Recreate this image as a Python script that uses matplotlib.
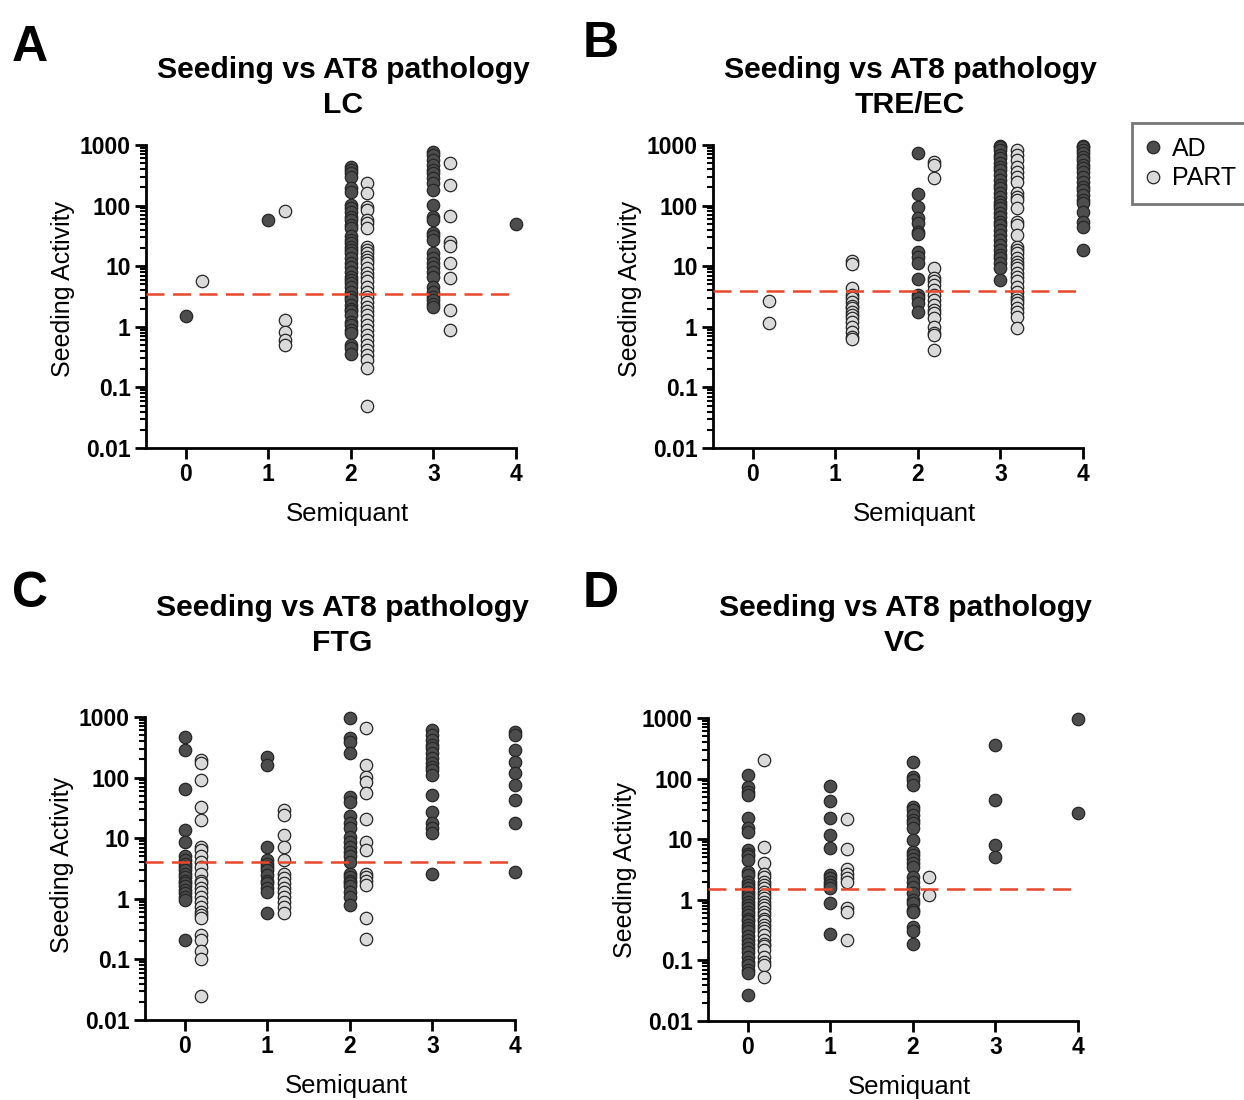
import matplotlib
matplotlib.use("Agg")
import matplotlib.pyplot as plt
from matplotlib.lines import Line2D
from matplotlib.ticker import FixedLocator, LogLocator, NullFormatter

plt.rcParams['font.family'] = ['Liberation Sans', 'DejaVu Sans']

# ---------------- data (Seeding Activity by Semiquant score) ----------------
regions = ["LC", "TRE/EC", "FTG", "VC"]
panel_letters = ["A", "B", "C", "D"]
semiquant_ticks = [0, 1, 2, 3, 4]
ytick_values = [0.01, 0.1, 1, 10, 100, 1000]
ytick_labels = ["0.01", "0.1", "1", "10", "100", "1000"]
thresholds = [3.5, 3.9, 4.0, 1.5]

lc_ad = {
    0: [1.5],
    1: [57],
    2: [440, 386, 340, 300, 193, 170, 102, 90, 79, 66, 58, 48, 42, 31, 27, 24, 21,
        18.5, 16.3, 13.5, 11.1, 9.8, 8.1, 6.7, 5.9, 5.2, 4.6, 3.8, 3.1, 2.8, 2.3,
        2.0, 1.8, 1.57, 1.22, 1.07, 0.89, 0.78, 0.50, 0.44, 0.36],
    3: [780, 684, 565, 468, 386, 340, 282, 233, 181, 102, 66, 58, 35, 31, 27, 16.3,
        13.5, 11.1, 9.8, 8.1, 6.7, 4.6, 3.8, 3.1, 2.8, 2.4, 2.15],
    4: [49],
}
lc_part = {
    0: [5.8],
    1: [81, 1.29, 0.83, 0.6, 0.5],
    2: [233, 159, 96, 85, 58, 51, 42, 21, 18.5, 16.3, 14.4, 12.6, 11.1, 9.2, 7.6,
        6.7, 5.6, 4.6, 3.8, 3.1, 2.6, 2.15, 1.8, 1.57, 1.29, 1.07, 0.89, 0.73,
        0.61, 0.50, 0.41, 0.34, 0.28, 0.21, 0.05],
    3: [498, 219, 67, 25, 21.5, 11.1, 6.3, 1.9, 0.87],
}

tre_ad = {
    2: [728, 153, 96, 62, 51, 37, 34, 17.4, 14.4, 11.1, 6.2, 3.35, 2.95, 2.44, 1.78],
    3: [980, 939, 826, 684, 603, 498, 439, 386, 320, 264, 219, 193, 159, 140, 116,
        102, 90, 75, 66, 54, 48, 40, 33, 27, 22, 18.5, 15.3, 13.5, 11.1, 9.2, 5.9],
    4: [980, 939, 826, 728, 641, 565, 468, 412, 363, 300, 248, 205, 181, 150, 124,
        109, 79, 54, 45, 18.5],
}
tre_part = {
    0: [2.67, 1.14],
    1: [12.2, 10.7, 4.4, 3.35, 2.95, 2.6, 2.23, 2.02, 1.78, 1.57, 1.38, 1.22, 1.0,
        0.83, 0.69, 0.63],
    2: [531, 468, 289, 9.2, 6.3, 5.6, 4.9, 4.05, 3.35, 2.77, 2.29, 1.89, 1.67, 1.38,
        1.0, 0.78, 0.73, 0.41],
    3: [826, 684, 565, 439, 363, 300, 248, 159, 140, 124, 90, 54, 48, 33, 21, 18.5,
        16.3, 13.5, 11.9, 10.5, 9.2, 7.6, 6.7, 5.6, 4.6, 3.8, 3.1, 2.77, 2.44, 2.02,
        1.78, 1.47, 0.94],
}

ftg_ad = {
    0: [473, 285, 66, 13.6, 8.8, 5.0, 4.4, 3.8, 3.4, 3.0, 2.6, 2.3, 2.0, 1.8, 1.6,
        1.4, 1.23, 1.08, 0.95, 0.21],
    1: [221, 161, 7.2, 4.4, 3.8, 3.4, 3.0, 2.5, 2.0, 1.8, 1.49, 1.31, 0.58],
    2: [950, 444, 392, 252, 48, 40, 23, 17.6, 14.5, 10.6, 8.8, 7.2, 6.0, 5.0, 4.1,
        2.6, 2.3, 2.0, 1.8, 1.6, 1.31, 1.08, 0.79],
    3: [610, 505, 417, 345, 304, 252, 208, 172, 151, 133, 110, 52, 27, 17.6, 14.5,
        12.0, 2.6],
    4: [573, 505, 285, 183, 117, 75, 43, 17.6, 2.8],
}
ftg_part = {
    0: [195, 172, 91, 33, 20, 7.2, 6.4, 5.0, 4.1, 3.4, 2.6, 2.0, 1.8, 1.49, 1.31,
        1.08, 0.9, 0.74, 0.61, 0.54, 0.48, 0.25, 0.21, 0.14, 0.10, 0.025],
    1: [29, 24, 11.3, 7.2, 4.4, 2.6, 2.2, 1.8, 1.49, 1.31, 1.08, 0.9, 0.74, 0.58],
    2: [650, 161, 104, 86, 55, 21, 8.8, 6.4, 2.6, 2.3, 2.0, 1.7, 0.48, 0.22],
}

vc_ad = {
    0: [115, 74, 61, 54, 22, 15.1, 13.3, 6.6, 5.8, 5.2, 4.5, 2.9, 2.6, 2.0, 1.75,
        1.55, 1.36, 1.2, 1.06, 0.93, 0.82, 0.72, 0.64, 0.56, 0.49, 0.44, 0.38, 0.34,
        0.30, 0.25, 0.22, 0.19, 0.16, 0.14, 0.115, 0.095, 0.084, 0.07, 0.061, 0.027],
    1: [76, 43, 22, 11.7, 7.1, 2.6, 2.26, 2.0, 1.75, 1.55, 0.87, 0.27],
    2: [190, 108, 95, 78, 34, 30, 25, 21, 18.3, 15.1, 9.7, 6.2, 5.5, 4.8, 4.0, 3.5,
        2.4, 2.0, 1.65, 1.28, 0.99, 0.87, 0.68, 0.64, 0.36, 0.30, 0.19],
    3: [358, 45, 8.0, 5.0],
    4: [950, 27],
}
vc_part = {
    0: [203, 7.5, 4.0, 2.7, 2.4, 2.0, 1.75, 1.55, 1.36, 1.2, 1.06, 0.93, 0.82, 0.72,
        0.64, 0.56, 0.49, 0.44, 0.38, 0.34, 0.30, 0.26, 0.22, 0.19, 0.17, 0.15,
        0.115, 0.095, 0.084, 0.054],
    1: [21.5, 6.9, 3.2, 2.7, 2.26, 2.0, 0.72, 0.64, 0.22],
    2: [2.4, 1.2],
}

ad_sets = [lc_ad, tre_ad, ftg_ad, vc_ad]
part_sets = [lc_part, tre_part, ftg_part, vc_part]

# ---------------- styling ----------------
AD_COLOR = "#4d4d4d"
PART_COLOR = "#dadada"
EDGE = "#262626"
RED = "#e8482c"
PART_OFFSET = 0.2
MS = 80

W, H = 1244, 1100
fig = plt.figure(figsize=(W / 100, H / 100), dpi=100)

# axes boxes in pixels: (left, top, right, bottom)
boxes = [(146, 145, 516, 448), (713, 145, 1083, 448),
         (145, 717, 515, 1020), (708, 718, 1078, 1021)]
title_y = [(70, 105), (70, 105), (608, 643), (608, 643)]
letter_pos = [(30, 48), (601, 44), (30, 594), (601, 594)]
ylabel_frac = [0.525, 0.525, 0.51, 0.50]


def fx(px):
    return px / W


def fy(py):
    return 1 - py / H


for i in range(4):
    l, t, r, b = boxes[i]
    ax = fig.add_axes([fx(l), fy(b), fx(r - l), (b - t) / H])
    ax.set_yscale('log')
    ax.set_ylim(0.01, 1000)
    ax.set_xlim(-0.48, 4.0)

    for x, vals in ad_sets[i].items():
        ax.scatter([x] * len(vals), vals, s=MS, c=AD_COLOR, edgecolors=EDGE,
                   linewidths=0.9, zorder=3, clip_on=False)
    for x, vals in part_sets[i].items():
        ax.scatter([x + PART_OFFSET] * len(vals), vals, s=MS, c=PART_COLOR,
                   edgecolors=EDGE, linewidths=0.9, zorder=3, clip_on=False)

    ax.axhline(thresholds[i], color=RED, lw=1.8, ls=(0, (7.2, 3.4)), zorder=4)

    for side in ['top', 'right']:
        ax.spines[side].set_visible(False)
    for side in ['left', 'bottom']:
        ax.spines[side].set_linewidth(2)
        ax.spines[side].set_color('black')

    ax.set_xticks(semiquant_ticks)
    ax.set_xticklabels([str(v) for v in semiquant_ticks], fontsize=16.5,
                       fontweight='bold')
    ax.yaxis.set_major_locator(FixedLocator(ytick_values))
    ax.set_yticklabels(ytick_labels, fontsize=16.5, fontweight='bold')
    ax.yaxis.set_minor_locator(LogLocator(base=10, subs=range(2, 10), numticks=20))
    ax.yaxis.set_minor_formatter(NullFormatter())
    ax.tick_params(axis='both', which='major', length=8, width=2, direction='out',
                   pad=3)
    ax.tick_params(axis='y', which='minor', length=4.5, width=1.5)

    ax.set_xlabel("Semiquant", fontsize=18.5)
    ax.xaxis.set_label_coords(0.543, -0.178)
    ax.set_ylabel("Seeding Activity", fontsize=18)
    ax.yaxis.set_label_coords(-0.192, ylabel_frac[i])

    cx = (l + r) / 2 + 12
    fig.text(fx(cx), fy(title_y[i][0]), "Seeding vs AT8 pathology", ha='center',
             va='center', fontsize=21.7, fontweight='bold')
    fig.text(fx(cx), fy(title_y[i][1]), regions[i], ha='center', va='center',
             fontsize=21.7, fontweight='bold')
    fig.text(fx(letter_pos[i][0]), fy(letter_pos[i][1]), panel_letters[i],
             ha='center', va='center', fontsize=36, fontweight='heavy')

handles = [
    Line2D([], [], marker='o', ls='none', markersize=9, markerfacecolor=AD_COLOR,
           markeredgecolor=EDGE, markeredgewidth=0.9, label='AD'),
    Line2D([], [], marker='o', ls='none', markersize=9, markerfacecolor=PART_COLOR,
           markeredgecolor=EDGE, markeredgewidth=0.9, label='PART'),
]
leg = fig.legend(handles=handles, loc='upper left',
                 bbox_to_anchor=(fx(1132), fy(123)), fontsize=18, frameon=True,
                 fancybox=False, handlelength=0.6, handletextpad=0.45,
                 borderpad=0.55, labelspacing=0.22, borderaxespad=0)
leg.get_frame().set_edgecolor('#555555')
leg.get_frame().set_linewidth(2)

fig.savefig("out.png", dpi=100)
